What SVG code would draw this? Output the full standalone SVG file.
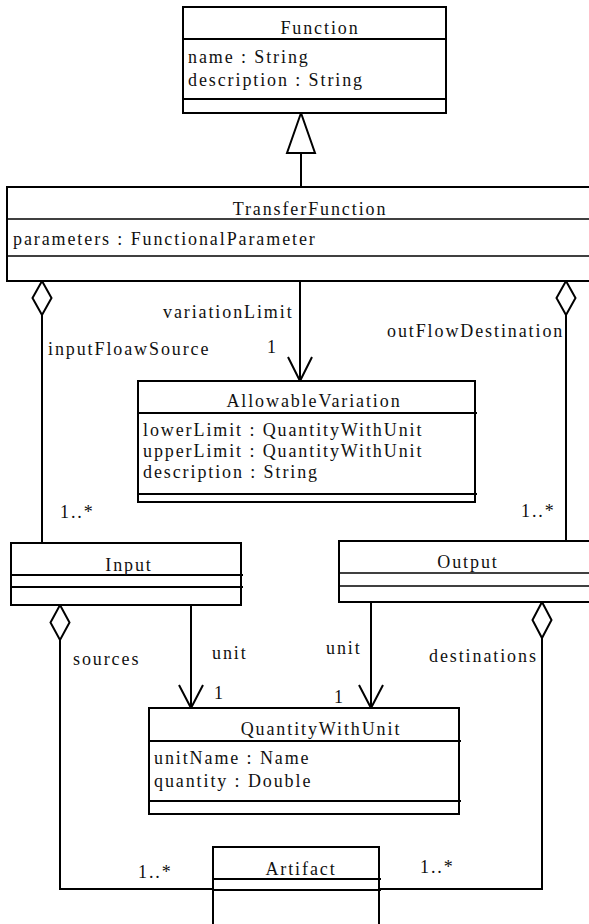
<svg xmlns="http://www.w3.org/2000/svg" width="589" height="924" viewBox="0 0 589 924">
<style>
text{font-family:'Liberation Serif','Times New Roman',serif;font-size:18px;letter-spacing:1.9px;fill:#111}
.c{text-anchor:middle}
.box{fill:#fff;stroke:#000;stroke-width:2}
.sep{stroke:#000;stroke-width:2;fill:none}
.thin{stroke:#000;stroke-width:1.3;fill:none}
.ln{stroke:#000;stroke-width:2;fill:none}
.dia{fill:#fff;stroke:#000;stroke-width:2}
</style>

<g id="connectors">
<line class="ln" x1="301" y1="153" x2="301" y2="187"/>
<polygon class="dia" points="301,113 287,153 315,153"/>
<line class="ln" x1="300" y1="281" x2="300" y2="381"/>
<path class="ln" d="M288,357 L300,381 L312,357"/>
<line class="ln" x1="42" y1="315" x2="42" y2="543"/>
<polygon class="dia" points="42,281 51.5,298 42,315 32.5,298"/>
<line class="ln" x1="566" y1="315" x2="566" y2="541"/>
<polygon class="dia" points="566,281 575.5,298 566,315 556.5,298"/>
<line class="ln" x1="191" y1="605" x2="191" y2="708"/>
<path class="ln" d="M179,685 L191,708 L203,685"/>
<line class="ln" x1="371" y1="602" x2="371" y2="708"/>
<path class="ln" d="M359,685 L371,708 L383,685"/>
<polyline class="ln" points="60,640 60,889 213,889"/>
<polygon class="dia" points="60,605 69.5,622.5 60,640 50.5,622.5"/>
<polyline class="ln" points="542,638 542,889 379,889"/>
<polygon class="dia" points="542,602 551.5,620 542,638 532.5,620"/>

<text x="163" y="318">variationLimit</text>
<text x="267" y="353">1</text>
<text x="48" y="355">inputFloawSource</text>
<text x="387" y="337">outFlowDestination</text>
<text x="60" y="518">1..*</text>
<text x="521" y="517">1..*</text>
<text x="73" y="665">sources</text>
<text x="212" y="659">unit</text>
<text x="326" y="654">unit</text>
<text x="429" y="662">destinations</text>
<text x="214" y="699">1</text>
<text x="334" y="703">1</text>
<text x="138" y="878">1..*</text>
<text x="420" y="873">1..*</text>
</g>

<g id="Function">
<rect class="box" x="183" y="7" width="263" height="106"/>
<line class="sep" x1="183" y1="39" x2="447" y2="39"/>
<line class="sep" x1="183" y1="99" x2="447" y2="99"/>
<text class="c" x="320" y="34">Function</text>
<text x="188" y="63">name : String</text>
<text x="188" y="86">description : String</text>
</g>

<g id="TransferFunction">
<rect class="box" x="7" y="187" width="605" height="94"/>
<line class="thin" x1="7" y1="219" x2="612" y2="219"/>
<line class="thin" x1="7" y1="256" x2="612" y2="256"/>
<text class="c" x="310" y="215">TransferFunction</text>
<text x="13" y="245">parameters : FunctionalParameter</text>
</g>

<g id="AllowableVariation">
<rect class="box" x="138" y="381" width="337" height="121"/>
<line class="sep" x1="138" y1="413" x2="477" y2="413"/>
<line class="sep" x1="138" y1="494" x2="477" y2="494"/>
<text class="c" x="314" y="407">AllowableVariation</text>
<text x="143" y="436">lowerLimit : QuantityWithUnit</text>
<text x="143" y="457">upperLimit : QuantityWithUnit</text>
<text x="143" y="478">description : String</text>
</g>

<g id="Input">
<rect class="box" x="11" y="543" width="230" height="62"/>
<line class="sep" x1="11" y1="575" x2="243" y2="575"/>
<line class="sep" x1="11" y1="587" x2="243" y2="587"/>
<text class="c" x="129" y="571">Input</text>
</g>

<g id="Output">
<rect class="box" x="339" y="541" width="261" height="61"/>
<line class="thin" x1="339" y1="573" x2="600" y2="573"/>
<line class="thin" x1="339" y1="586" x2="600" y2="586"/>
<text class="c" x="468" y="568">Output</text>
</g>

<g id="QuantityWithUnit">
<rect class="box" x="149" y="708" width="310" height="106"/>
<line class="sep" x1="149" y1="741" x2="461" y2="741"/>
<line class="sep" x1="149" y1="801" x2="461" y2="801"/>
<text class="c" x="321" y="735">QuantityWithUnit</text>
<text x="154" y="764">unitName : Name</text>
<text x="154" y="787">quantity : Double</text>
</g>

<g id="Artifact">
<rect class="box" x="213" y="847" width="166" height="90"/>
<line class="sep" x1="213" y1="879" x2="381" y2="879"/>
<line class="sep" x1="213" y1="890" x2="381" y2="890"/>
<text class="c" x="301" y="875">Artifact</text>
</g>
</svg>
